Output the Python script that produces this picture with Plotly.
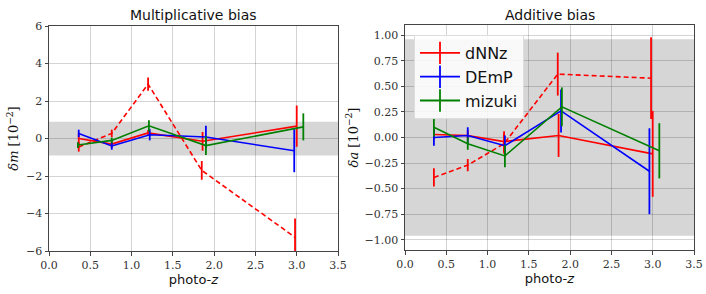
import plotly.graph_objects as go

# ---- Multiplicative bias data ----
m_dnnz_x = [0.36, 0.76, 1.20, 1.86, 3.00]
m_dnnz_y = [0.00, -0.30, 0.30, -0.15, 0.66]
m_dnnz_e = [0.30, 0.20, 0.15, 0.50, 1.10]

m_dnnz2_x = [0.36, 0.76, 1.20, 1.85, 2.98]
m_dnnz2_y = [-0.45, 0.27, 2.90, -1.70, -5.27]
m_dnnz2_e = [0.25, 0.20, 0.35, 0.50, 1.00]

m_demp_x = [0.36, 0.76, 1.22, 1.90, 2.97]
m_demp_y = [0.27, -0.40, 0.20, 0.08, -0.65]
m_demp_e = [0.20, 0.20, 0.30, 0.60, 1.15]

m_mizuki_x = [0.35, 0.76, 1.21, 1.90, 3.08]
m_mizuki_y = [-0.35, -0.10, 0.68, -0.38, 0.62]
m_mizuki_e = [0.15, 0.15, 0.30, 0.50, 0.72]

# ---- Additive bias data ----
a_dnnz_x = [0.35, 0.76, 1.20, 1.86, 3.00]
a_dnnz_y = [0.03, 0.02, -0.04, 0.02, -0.16]
a_dnnz_e = [0.05, 0.05, 0.10, 0.21, 0.42]

a_dnnz2_x = [0.35, 0.76, 1.20, 1.85, 2.98]
a_dnnz2_y = [-0.39, -0.27, -0.06, 0.62, 0.58]
a_dnnz2_e = [0.09, 0.06, 0.10, 0.21, 0.40]

a_demp_x = [0.35, 0.76, 1.21, 1.89, 2.96]
a_demp_y = [0.00, 0.02, -0.08, 0.26, -0.33]
a_demp_e = [0.08, 0.08, 0.10, 0.21, 0.42]

a_mizuki_x = [0.35, 0.76, 1.21, 1.90, 3.08]
a_mizuki_y = [0.10, -0.06, -0.18, 0.30, -0.13]
a_mizuki_e = [0.09, 0.06, 0.11, 0.19, 0.27]

m_band = 0.9
a_band = 0.96

xticks = [0.0, 0.5, 1.0, 1.5, 2.0, 2.5, 3.0, 3.5]
m_yticks = [-6, -4, -2, 0, 2, 4, 6]
a_yticks = [-1.0, -0.75, -0.5, -0.25, 0.0, 0.25, 0.5, 0.75, 1.0]

legend_names = ["dNNz", "DEmP", "mizuki"]
legend_colors = ["red", "blue", "green"]

fig = go.Figure()

def add(x, y, e, color, xa, ya, dash="solid"):
    fig.add_trace(go.Scatter(
        x=x, y=y, mode="lines", showlegend=False, hoverinfo="skip",
        line=dict(color=color, width=1.6, dash=dash),
        error_y=dict(type="data", array=e, color=color, thickness=1.8, width=0),
        xaxis=xa, yaxis=ya))

DASH = "5px,3px"
add(m_dnnz2_x, m_dnnz2_y, m_dnnz2_e, "red", "x", "y", dash=DASH)
add(m_dnnz_x, m_dnnz_y, m_dnnz_e, "red", "x", "y")
add(m_demp_x, m_demp_y, m_demp_e, "blue", "x", "y")
add(m_mizuki_x, m_mizuki_y, m_mizuki_e, "green", "x", "y")

add(a_dnnz2_x, a_dnnz2_y, a_dnnz2_e, "red", "x2", "y2", dash=DASH)
add(a_dnnz_x, a_dnnz_y, a_dnnz_e, "red", "x2", "y2")
add(a_demp_x, a_demp_y, a_demp_e, "blue", "x2", "y2")
add(a_mizuki_x, a_mizuki_y, a_mizuki_e, "green", "x2", "y2")

# legend entries (line with vertical error-bar tick)
for name, color in zip(legend_names, legend_colors):
    fig.add_trace(go.Scatter(
        x=[None], y=[None], mode="lines+markers", name=name, showlegend=True,
        line=dict(color=color, width=1.8),
        marker=dict(symbol="line-ns", size=20, line=dict(color=color, width=1.8)),
        xaxis="x2", yaxis="y2"))

tickfont = dict(family="DejaVu Serif", size=11, color="#333")
axcommon = dict(showline=True, linecolor="#444", linewidth=1, mirror=True,
                ticks="outside", ticklen=3.5, tickcolor="#444",
                showgrid=True, gridcolor="rgba(0,0,0,0.17)", gridwidth=1,
                zeroline=False, tickfont=tickfont, automargin=False)

fig.update_layout(
    width=706, height=294,
    margin=dict(l=0, r=0, t=0, b=0, autoexpand=False),
    paper_bgcolor="white", plot_bgcolor="white",
    xaxis=dict(domain=[49/706, 338/706], range=[0, 3.5], tickvals=xticks,
               ticktext=[f"{v:.1f}" for v in xticks], anchor="y",
               title=dict(text="photo-<i>z</i>", font=dict(family="DejaVu Sans", size=13, color="#111"), standoff=2),
               **axcommon),
    yaxis=dict(domain=[1-251/294, 1-26/294], range=[-6, 6], tickvals=m_yticks,
               ticktext=["−6", "−4", "−2", "0", "2", "4", "6"], anchor="x",
               title=dict(text="<i>δm</i> [10<sup>−2</sup>]", font=dict(family="DejaVu Serif", size=13, color="#111"), standoff=4),
               **axcommon),
    xaxis2=dict(domain=[405/706, 694/706], range=[0, 3.5], tickvals=xticks,
                ticktext=[f"{v:.1f}" for v in xticks], anchor="y2",
                title=dict(text="photo-<i>z</i>", font=dict(family="DejaVu Sans", size=13, color="#111"), standoff=2),
                **axcommon),
    yaxis2=dict(domain=[1-250/294, 1-25/294], range=[-1.1, 1.1], tickvals=a_yticks,
                ticktext=["−1.00", "−0.75", "−0.50", "−0.25", "0.00", "0.25", "0.50", "0.75", "1.00"],
                anchor="x2",
                title=dict(text="<i>δa</i> [10<sup>−2</sup>]", font=dict(family="DejaVu Serif", size=13, color="#111"), standoff=3),
                **axcommon),
    legend=dict(x=414/706, y=1-35/294, xanchor="left", yanchor="top",
                bgcolor="rgba(255,255,255,0.85)", bordercolor="#ddd", borderwidth=1,
                font=dict(family="DejaVu Sans", size=16, color="#111"),
                itemwidth=40, tracegroupgap=0),
    annotations=[
        dict(text="Multiplicative bias", x=(49+338)/2/706, y=1-15/294, xref="paper", yref="paper",
             xanchor="center", yanchor="middle",
             showarrow=False, font=dict(family="DejaVu Sans", size=14, color="#111")),
        dict(text="Additive bias", x=(405+694)/2/706, y=1-15/294, xref="paper", yref="paper",
             xanchor="center", yanchor="middle",
             showarrow=False, font=dict(family="DejaVu Sans", size=14, color="#111")),
    ],
    shapes=[
        dict(type="rect", xref="x domain", yref="y", x0=0, x1=1, y0=-m_band, y1=m_band,
             fillcolor="#d6d6d6", line=dict(width=0), layer="below"),
        dict(type="rect", xref="x2 domain", yref="y2", x0=0, x1=1, y0=-a_band, y1=a_band,
             fillcolor="#d6d6d6", line=dict(width=0), layer="below"),
    ],
)

fig.write_html("out.html", config={"displayModeBar": False},
               post_script="document.body.style.margin='0';document.body.style.overflow='hidden';window.dispatchEvent(new Event('resize'));")
